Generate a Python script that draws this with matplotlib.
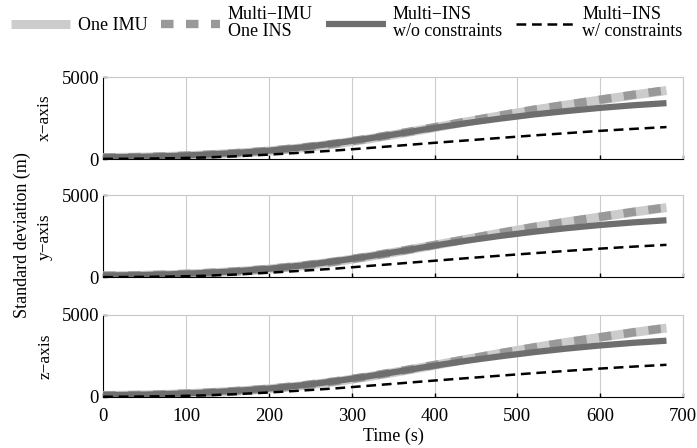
import matplotlib
matplotlib.use("Agg")
import matplotlib.pyplot as plt
import numpy as np

plt.rcParams['font.family'] = ['Liberation Serif', 'DejaVu Serif']
plt.rcParams['font.size'] = 11

time_s = [0, 40, 80, 120, 160, 200, 240, 280, 320, 360, 400, 440, 480, 520, 560, 600, 640, 680]

axis_names = ["x\u2212axis", "y\u2212axis", "z\u2212axis"]

one_imu = {
    "x": [90, 110, 160, 240, 350, 490, 680, 920, 1220, 1560, 1920, 2280, 2640, 2990, 3300, 3600, 3900, 4180],
    "y": [90, 110, 160, 240, 350, 500, 700, 950, 1260, 1600, 1960, 2330, 2700, 3060, 3380, 3680, 3980, 4250],
    "z": [90, 110, 160, 240, 350, 490, 680, 930, 1230, 1570, 1930, 2300, 2660, 3010, 3330, 3630, 3930, 4200],
}
multi_imu_one_ins = {
    "x": [100, 120, 170, 250, 360, 500, 700, 940, 1240, 1580, 1940, 2300, 2660, 3010, 3320, 3620, 3920, 4200],
    "y": [100, 120, 170, 250, 360, 510, 710, 960, 1270, 1610, 1970, 2340, 2710, 3070, 3390, 3690, 3990, 4260],
    "z": [100, 120, 170, 250, 360, 500, 700, 950, 1250, 1590, 1950, 2310, 2670, 3020, 3340, 3640, 3940, 4210],
}
multi_ins_wo = {
    "x": [110, 130, 180, 260, 370, 510, 710, 960, 1250, 1570, 1900, 2200, 2470, 2720, 2930, 3120, 3280, 3410],
    "y": [110, 130, 180, 260, 370, 520, 720, 980, 1280, 1600, 1940, 2250, 2530, 2780, 3000, 3190, 3350, 3480],
    "z": [110, 130, 180, 260, 370, 510, 710, 960, 1260, 1580, 1910, 2210, 2480, 2730, 2950, 3140, 3300, 3430],
}
multi_ins_w = {
    "x": [10, 20, 45, 90, 170, 270, 390, 520, 670, 830, 990, 1140, 1290, 1440, 1580, 1720, 1840, 1950],
    "y": [10, 20, 45, 90, 170, 280, 400, 530, 690, 850, 1010, 1170, 1320, 1470, 1610, 1750, 1870, 1980],
    "z": [10, 20, 45, 90, 170, 270, 390, 520, 680, 840, 1000, 1150, 1300, 1450, 1590, 1730, 1850, 1960],
}

legend_labels = ["One IMU", "Multi\u2212IMU\nOne INS", "Multi\u2212INS\nw/o constraints", "Multi\u2212INS\nw/ constraints"]
x_ticks = [0, 100, 200, 300, 400, 500, 600, 700]
y_ticks = [0, 5000]

fig = plt.figure(figsize=(6.97, 4.48), dpi=100)
positions = [(0.148, 0.645, 0.832, 0.183), (0.148, 0.381, 0.832, 0.183), (0.148, 0.114, 0.832, 0.183)]
keys = ["x", "y", "z"]
handles = None
for i, (pos, k, name) in enumerate(zip(positions, keys, axis_names)):
    ax = fig.add_axes(pos)
    h1, = ax.plot(time_s, one_imu[k], color="#cccccc", lw=6.5, solid_capstyle="butt", zorder=3)
    h2, = ax.plot(time_s, multi_imu_one_ins[k], color="#999999", lw=6.0, dashes=(1.5, 1.5), zorder=4)
    h3, = ax.plot(time_s, multi_ins_wo[k], color="#6e6e6e", lw=4.5, solid_capstyle="butt", zorder=5)
    h4, = ax.plot(time_s, multi_ins_w[k], color="black", lw=1.8, dashes=(3.9, 2.3), zorder=6)
    handles = [h1, h2, h3, h4]
    ax.set_xlim(0, 700)
    ax.set_ylim(0, 5000)
    ax.set_xticks(x_ticks)
    ax.set_yticks(y_ticks)
    ax.grid(axis="x", color="#cccccc", lw=0.8)
    ax.set_axisbelow(True)
    for s in ["top", "right"]:
        ax.spines[s].set_color("#c8c8c8")
    for s in ["left", "bottom"]:
        ax.spines[s].set_color("black")
    ax.tick_params(direction="in", length=3, width=1, labelsize=13.5)
    ax.tick_params(axis="y", pad=3, right=False)
    ax.tick_params(axis="x", pad=8, top=False)
    if i < 2:
        ax.set_xticklabels([])
    else:
        ax.set_xlabel("Time (s)", fontsize=13, labelpad=2)
    ax.set_ylabel(name, fontsize=12.5, labelpad=6)

fig.text(0.032, 0.475, "Standard deviation (m)", rotation=90, ha="center", va="center", fontsize=13)

leg = fig.legend(handles, legend_labels, loc="upper left", bbox_to_anchor=(0.0, 1.01), ncol=4,
                 frameon=False, handlelength=3.3, columnspacing=0.75, handletextpad=0.4, fontsize=13,
                 borderaxespad=0.2)
for t in leg.get_texts():
    t.set_linespacing(1.0)

fig.savefig("out.png", dpi=100)
